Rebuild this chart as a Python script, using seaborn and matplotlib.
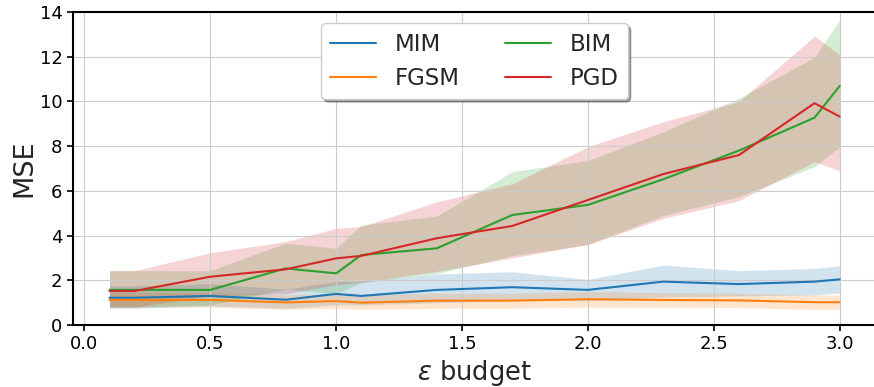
import matplotlib
matplotlib.use("Agg")
import matplotlib.pyplot as plt
import seaborn as sns
import pandas as pd

eps = [0.1, 0.2, 0.5, 0.8, 1.0, 1.1, 1.4, 1.7, 2.0, 2.3, 2.6, 2.9, 3.0]

methods = ["MIM", "FGSM", "BIM", "PGD"]

mim = [1.22, 1.22, 1.30, 1.13, 1.39, 1.30, 1.57, 1.69, 1.57, 1.94, 1.83, 1.94, 2.04]
mim_lo = [0.75, 0.75, 0.85, 0.75, 0.90, 0.90, 1.00, 1.10, 1.10, 1.25, 1.30, 1.35, 1.43]
mim_hi = [1.75, 1.75, 1.85, 1.60, 1.95, 1.95, 2.28, 2.38, 2.04, 2.68, 2.43, 2.53, 2.65]

fgsm = [1.12, 1.12, 1.12, 1.01, 1.07, 1.00, 1.09, 1.09, 1.15, 1.12, 1.10, 1.02, 1.02]
fgsm_lo = [0.80, 0.80, 0.80, 0.70, 0.75, 0.70, 0.75, 0.75, 0.80, 0.80, 0.78, 0.70, 0.70]
fgsm_hi = [1.45, 1.45, 1.45, 1.35, 1.40, 1.35, 1.42, 1.42, 1.50, 1.45, 1.42, 1.35, 1.34]

bim = [1.57, 1.57, 1.57, 2.53, 2.31, 3.13, 3.43, 4.92, 5.37, 6.52, 7.80, 9.27, 10.69]
bim_lo = [0.80, 0.80, 0.90, 1.60, 1.40, 1.90, 2.30, 3.10, 3.60, 4.90, 5.74, 7.08, 7.97]
bim_hi = [2.43, 2.43, 2.43, 3.66, 3.43, 4.47, 4.87, 6.86, 7.35, 8.64, 10.14, 11.97, 13.64]

pgd = [1.52, 1.52, 2.16, 2.49, 2.98, 3.09, 3.88, 4.43, 5.59, 6.75, 7.60, 9.92, 9.32]
pgd_lo = [0.80, 0.80, 1.30, 1.40, 1.80, 1.90, 2.40, 3.00, 3.60, 4.77, 5.56, 7.30, 6.90]
pgd_hi = [2.43, 2.43, 3.23, 3.73, 4.32, 4.40, 5.51, 6.31, 7.97, 9.09, 9.99, 12.92, 12.07]

means = {"MIM": mim, "FGSM": fgsm, "BIM": bim, "PGD": pgd}
lows = {"MIM": mim_lo, "FGSM": fgsm_lo, "BIM": bim_lo, "PGD": pgd_lo}
highs = {"MIM": mim_hi, "FGSM": fgsm_hi, "BIM": bim_hi, "PGD": pgd_hi}

sns.set_style("whitegrid", {
    "axes.edgecolor": "black",
    "grid.color": "#cccccc",
    "xtick.bottom": True,
    "ytick.left": True,
    "xtick.color": "black",
    "ytick.color": "black",
})
plt.rcParams["font.family"] = ["DejaVu Sans"]
plt.rcParams["xtick.major.size"] = 4
plt.rcParams["ytick.major.size"] = 4
plt.rcParams["xtick.major.width"] = 1.2
plt.rcParams["ytick.major.width"] = 1.2

rows = []
for m in methods:
    for x, y in zip(eps, means[m]):
        rows.append({"eps": x, "MSE": y, "method": m})
df = pd.DataFrame(rows)

palette = dict(zip(methods, sns.color_palette("tab10", 4)))

fig = plt.figure(figsize=(8.74, 3.87), dpi=100)
ax = fig.add_axes([0.0835, 0.1602, 0.919, 0.809])
ax.set_axisbelow("line")

sns.lineplot(data=df, x="eps", y="MSE", hue="method", hue_order=methods,
             palette=palette, linewidth=1.5, ax=ax)
for m in methods:
    ax.fill_between(eps, lows[m], highs[m], color=palette[m], alpha=0.2, linewidth=0)

ax.set_ylim(0, 14)
ax.set_yticks([0, 2, 4, 6, 8, 10, 12, 14])
ax.set_xticks([0.0, 0.5, 1.0, 1.5, 2.0, 2.5, 3.0])
ax.tick_params(labelsize=13)
for s in ax.spines.values():
    s.set_linewidth(1.5)
    s.set_color("black")
ax.set_xlabel(r"$\varepsilon$ budget", fontsize=18.5, labelpad=3)
ax.set_ylabel("MSE", fontsize=19.5, labelpad=2)

ax.legend(loc="upper center", ncol=2, fontsize=16.5, shadow=True, fancybox=True,
          frameon=True, title=None)

fig.savefig("out.png", dpi=100)
